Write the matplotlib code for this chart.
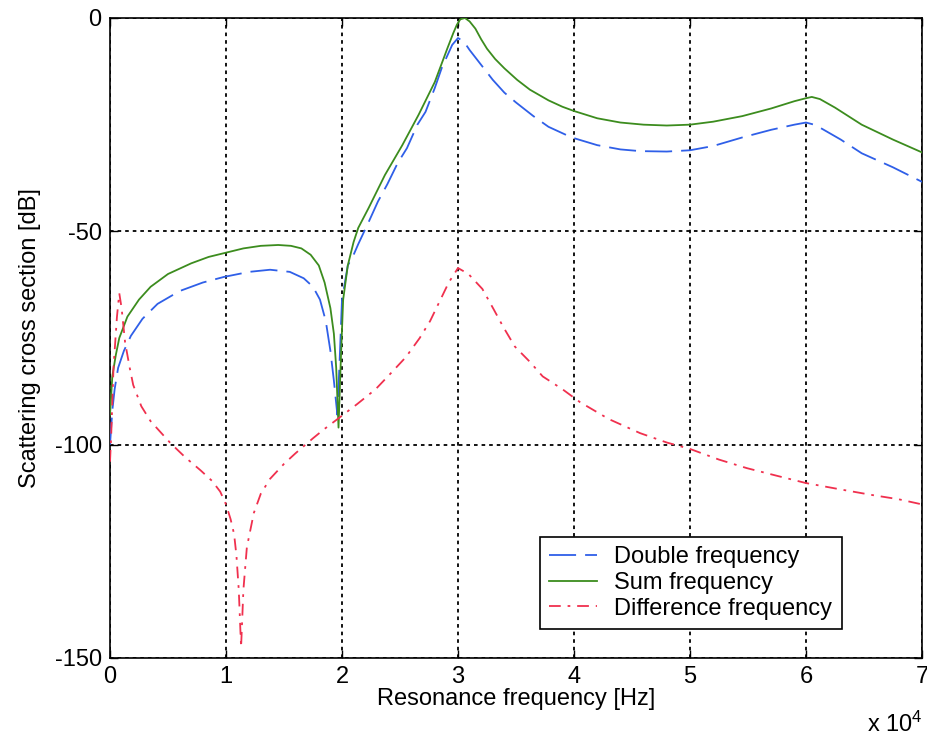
import matplotlib
matplotlib.use("Agg")
import numpy as np
from matplotlib import pyplot as plt
from matplotlib.ticker import FuncFormatter, MultipleLocator

plt.rcParams["font.family"] = ["Liberation Sans", "DejaVu Sans"]
plt.rcParams["mathtext.default"] = "regular"
plt.rcParams["axes.unicode_minus"] = False

out_filename = "out.png"

# frequencies in units of 1e4 Hz, levels in dB
sum_f = [0.0, 0.02, 0.05, 0.08, 0.15, 0.25, 0.35, 0.5, 0.7, 0.85, 1.0, 1.15,
         1.3, 1.45, 1.56, 1.65, 1.73, 1.8, 1.85, 1.9, 1.93, 1.95, 1.97, 1.99,
         2.01, 2.05, 2.1, 2.14, 2.23, 2.37, 2.52, 2.66, 2.8, 2.91, 2.96, 2.99,
         3.02, 3.06, 3.1, 3.15, 3.2, 3.25, 3.32, 3.4, 3.51, 3.62, 3.78, 3.9,
         4.0, 4.2, 4.4, 4.6, 4.8, 5.0, 5.2, 5.45, 5.7, 5.9, 6.0, 6.05, 6.12,
         6.25, 6.48, 6.75, 7.0]
sum_db = [-93, -84, -79, -75, -70, -66, -63, -60, -57.5, -56, -55, -54,
          -53.4, -53.2, -53.4, -54, -55.5, -58, -62, -68, -74, -82, -96, -80,
          -66, -58, -52.5, -49.2, -44.5, -36.8, -29.8, -22.7, -15, -7, -3.5, -1.6,
          -0.3, 0, -0.8, -2.5, -5, -7.2, -9.6, -11.8, -14.5, -16.8, -19.3, -20.8,
          -21.8, -23.5, -24.5, -25, -25.2, -25, -24.3, -23, -21.2, -19.5, -18.8, -18.5, -19,
          -21, -25, -28.5, -31.5]

double_f = [0.0, 0.02, 0.04, 0.07, 0.12, 0.18, 0.28, 0.41, 0.6, 0.8, 0.98, 1.2,
            1.38, 1.55, 1.67, 1.75, 1.81, 1.86, 1.9, 1.93, 1.96, 1.98, 2.0,
            2.05, 2.1, 2.14, 2.23, 2.31, 2.39, 2.48, 2.56, 2.65, 2.72, 2.8, 2.86,
            2.95, 3.0, 3.05, 3.1, 3.2, 3.3, 3.4, 3.5, 3.65, 3.78, 3.98, 4.2, 4.4,
            4.57, 4.8, 5.0, 5.2, 5.45, 5.7, 5.9, 6.0, 6.07, 6.14, 6.3, 6.48, 6.75, 7.0]
double_db = [-100, -92, -87, -82, -78, -74.5, -70.5, -67, -64, -62, -60.7, -59.5,
             -59, -59.5, -61, -63, -66, -71, -78, -85, -93, -80, -66,
             -58, -55.5, -53, -47.8, -43, -39, -34, -30.5, -25, -22, -16.4, -11.7,
             -6.3, -4.7, -5.5, -7.5, -11, -14.5, -17.5, -19.8, -23, -25.5, -28, -29.8, -30.8,
             -31.2, -31.3, -31, -30, -28, -26.2, -25, -24.5, -25, -26, -28.5, -31.7, -35, -38.4]

diff_f = [0.0, 0.01, 0.03, 0.06, 0.08, 0.1, 0.13, 0.17, 0.2, 0.27, 0.35, 0.52,
          0.65, 0.78, 0.88, 0.95, 1.0, 1.04, 1.07, 1.09, 1.11, 1.13, 1.15, 1.18, 1.24,
          1.3, 1.38, 1.5, 1.6, 1.75, 1.84, 2.0, 2.13, 2.29, 2.43, 2.55, 2.67, 2.76,
          2.84, 2.92, 3.0, 3.09, 3.21, 3.31, 3.39, 3.49, 3.62, 3.73, 3.9,
          4.05, 4.3, 4.57, 4.8, 5.0, 5.25, 5.49, 5.75, 6.0, 6.3, 6.57, 6.8, 7.0]
diff_db = [-104, -98, -82, -70, -64.5, -68, -76, -82, -86, -91, -94.5, -99.6,
           -103, -106, -108.5, -111, -114, -117.5, -121, -126, -134, -147.5, -134, -124, -116,
           -111.5, -108, -104.5, -102, -98.5, -96.5, -93.2, -90.5, -87, -83, -79.5, -75, -71,
           -66.5, -62, -58.6, -60, -63.5, -68.4, -72.4, -77, -80.6, -84, -87,
           -90, -94, -97.3, -99.5, -101, -103.5, -105.5, -107.3, -109, -110.5, -111.8, -112.8, -114]

series = [
    ("Double frequency", double_f, double_db, "#2f5fe8", (0, (15, 5))),
    ("Sum frequency", sum_f, sum_db, "#3c8c1e", "-"),
    ("Difference frequency", diff_f, diff_db, "#f0304e", (0, (6.5, 3.8, 1.5, 3.8))),
]

fs = 17

fig = plt.figure(figsize=(9.27, 7.37), dpi=100)
ax = fig.add_axes([110 / 927, 1 - 658 / 737, 812 / 927, 640 / 737])

for label, f, db, color, ls in series:
    ax.plot(np.array(f) * 1e4, db, color=color, linestyle=ls, linewidth=1.3,
            label=label, zorder=3)

ax.set_xlim(0, 7e4)
ax.set_ylim(-150, 0)
ax.xaxis.set_major_locator(MultipleLocator(1e4))
ax.yaxis.set_major_locator(MultipleLocator(50))
ax.xaxis.set_major_formatter(FuncFormatter(lambda v, _: f"{v / 1e4:g}"))
ax.yaxis.set_major_formatter(FuncFormatter(lambda v, _: f"{v:g}"))

ax.tick_params(direction="in", length=6, width=1, labelsize=fs, pad=6,
               top=True, right=True)
for sp in ax.spines.values():
    sp.set_linewidth(1.2)

ax.grid(True, color="black", linestyle=(0, (2, 2.2)), linewidth=1.3, zorder=1)

ax.set_xlabel("Resonance frequency [Hz]", fontsize=fs, labelpad=0)
ax.set_ylabel("Scattering cross section [dB]", fontsize=fs, labelpad=10)

fig.text(867 / 927, 1 - 724 / 737, r"x 10$^4$", fontsize=fs, ha="left", va="center")

leg = ax.legend(loc="upper left", bbox_to_anchor=(540 / 927, 1 - 537 / 737),
                bbox_transform=fig.transFigure, fontsize=fs, frameon=True,
                fancybox=False, framealpha=1, edgecolor="black",
                borderpad=0.4, labelspacing=0.15, handlelength=2.0,
                handletextpad=0.75, borderaxespad=0)
leg.get_frame().set_linewidth(1.2)

fig.savefig(out_filename, dpi=100)
